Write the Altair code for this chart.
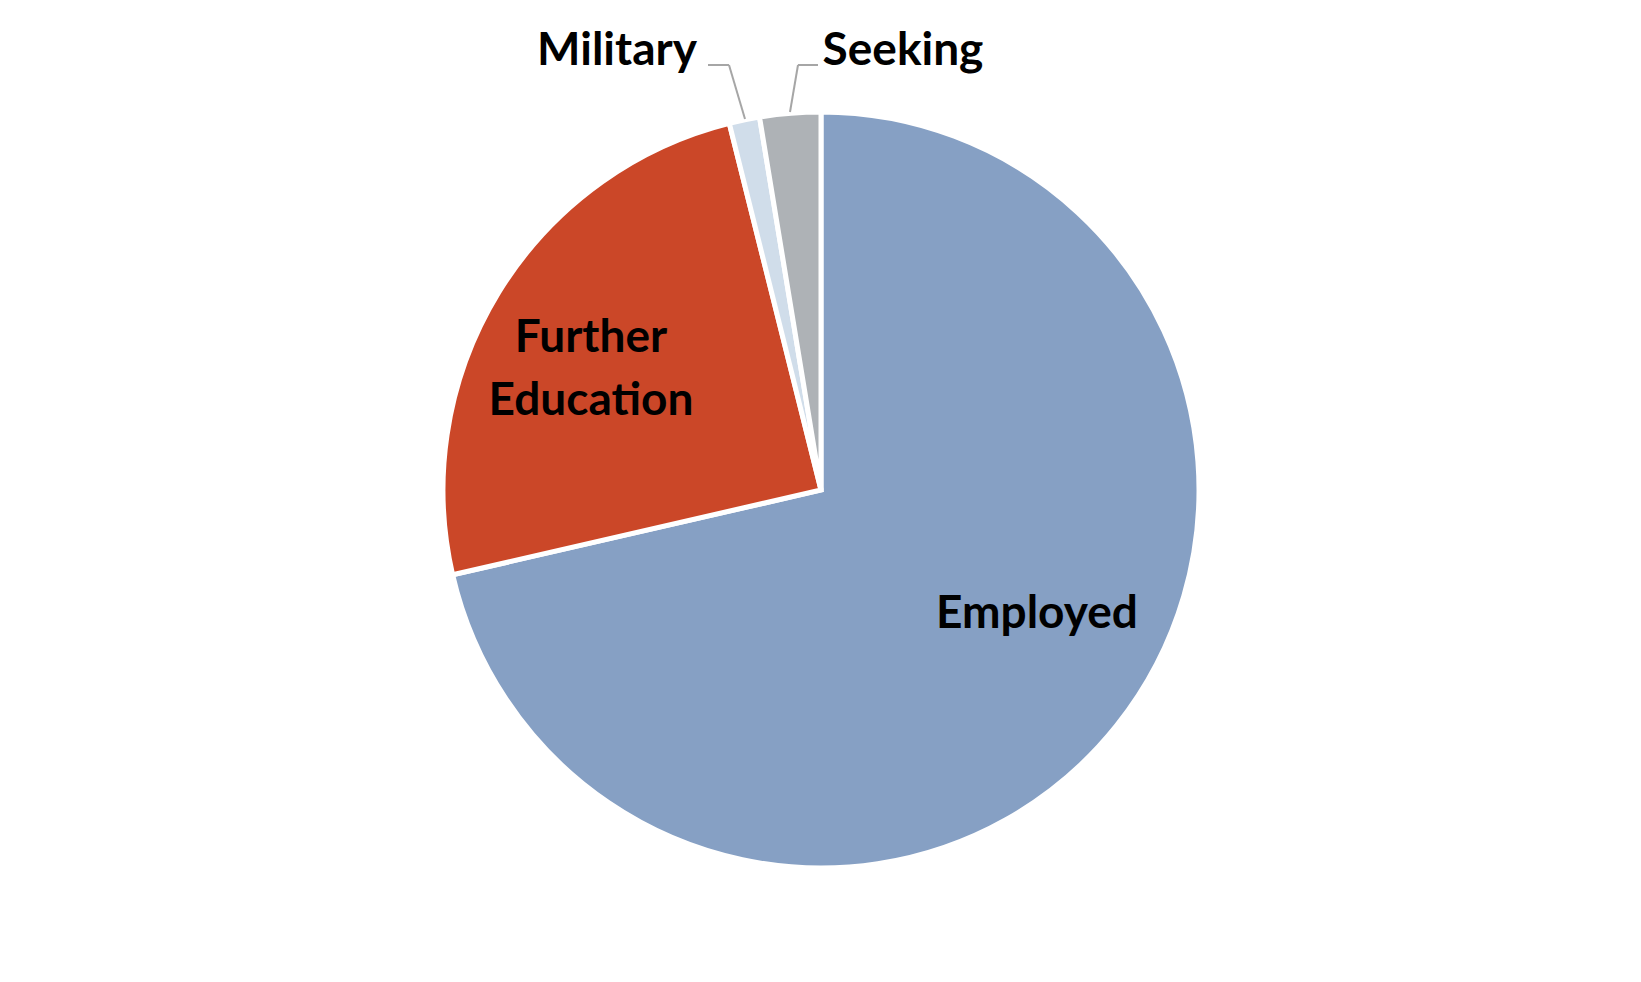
import altair as alt
import pandas as pd

categories = ["Employed", "Further Education", "Military", "Seeking"]
shares = [71.4, 24.7, 1.3, 2.6]
colors = ["#86A0C4", "#CB4728", "#D0DDEA", "#AEB2B6"]

df = pd.DataFrame({"category": categories, "share": shares, "order": list(range(len(categories)))})

W, H = 1620, 960
CX, CY = W / 2, H / 2
R = 378

pie = alt.Chart(df).mark_arc(outerRadius=R, stroke="white", strokeWidth=5).encode(
    theta=alt.Theta("share:Q", stack=True),
    order=alt.Order("order:Q"),
    color=alt.Color("category:N", scale=alt.Scale(domain=categories, range=colors), legend=None),
)

# label anchors (layout, relative to pie centre)
label_layout = [
    (["Employed"], 216, 124),
    (["Further", "Education"], -230, -152),
    (["Military"], -204, -439),
    (["Seeking"], 82, -439),
]
FS = 46
layers = [pie]
for lines, dx, dy in label_layout:
    t = alt.Chart(df).mark_text(
        font="Lato", fontWeight="bold", fontSize=FS, color="black",
        align="center", baseline="middle", lineHeight=63,
        text=lines if len(lines) > 1 else lines[0],
    ).encode(x=alt.value(CX + dx), y=alt.value(CY + dy))
    layers.append(t.transform_filter(alt.datum.order == 0))

# leader lines
leaders = [
    [(-113, -425), (-92, -425), (-76, -371)],
    [(-3, -425), (-23, -425), (-31, -378)],
]
for pts in leaders:
    for (x1, y1), (x2, y2) in zip(pts[:-1], pts[1:]):
        r = alt.Chart(df).mark_rule(color="#A6A6A6", strokeWidth=2).encode(
            x=alt.value(CX + x1), y=alt.value(CY + y1),
            x2=alt.value(CX + x2), y2=alt.value(CY + y2),
        ).transform_filter(alt.datum.order == 0)
        layers.append(r)

chart = alt.layer(*layers).properties(
    width=W, height=H,
    padding={"left": 3, "top": 2, "right": 0, "bottom": 0},
).configure_view(stroke=None)

chart.save("out.html", embed_options={"renderer": "svg", "actions": False})
